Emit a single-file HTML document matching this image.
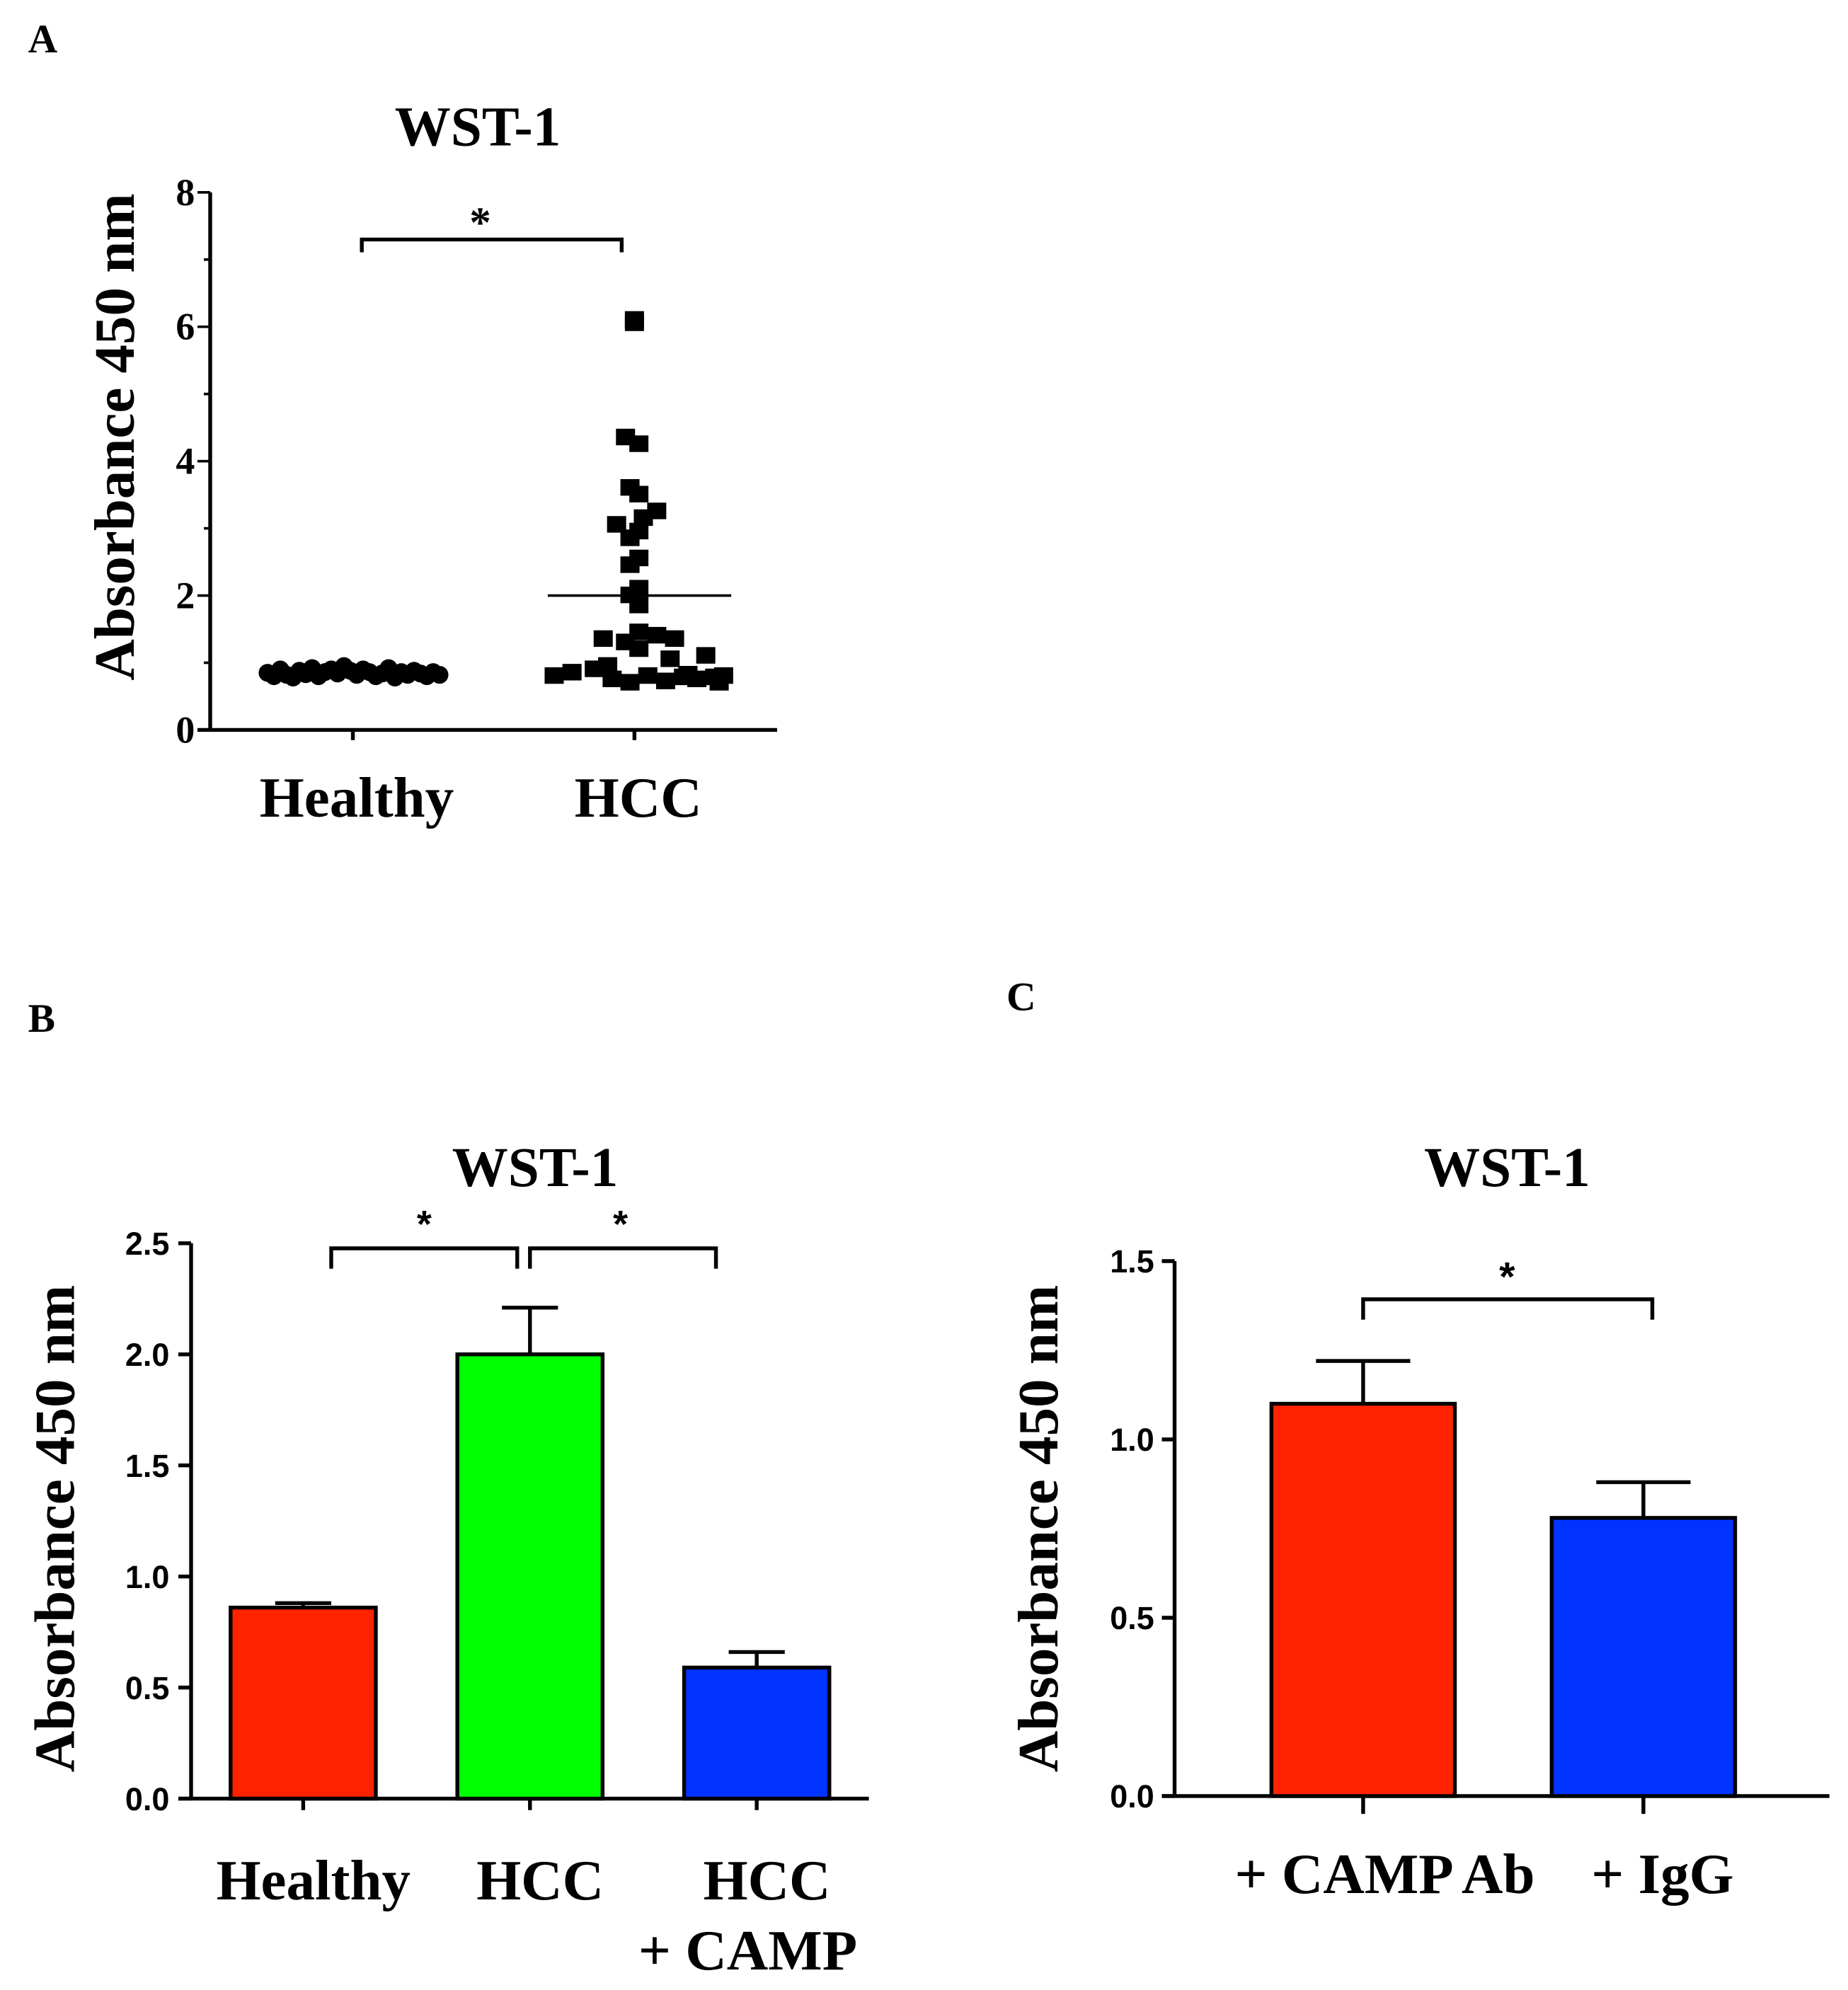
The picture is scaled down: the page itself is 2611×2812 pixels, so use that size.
<!DOCTYPE html>
<html><head><meta charset="utf-8"><style>html,body{margin:0;padding:0;background:#fff}svg{display:block}
.s{font-family:"Liberation Serif",serif;font-weight:bold}.a{font-family:"Liberation Sans",sans-serif;font-weight:bold}</style></head>
<body>
<svg id="fig" width="2611" height="2812" viewBox="0 0 1450.6 1562.2" xmlns="http://www.w3.org/2000/svg">
<rect width="1450.6" height="1562.2" fill="#fff"/>
<text class="s" x="22" y="41" font-size="32">A</text>
<text class="s" x="22" y="810" font-size="32">B</text>
<text class="s" x="790" y="793" font-size="32">C</text>
<g id="pa"></g>
<g id="pb"></g>
<g id="pc"></g>
</svg>
<script>
const NS="http://www.w3.org/2000/svg";
function mk(p,t,a,txt){const e=document.createElementNS(NS,t);for(const k in a)e.setAttribute(k,a[k]);if(txt!==undefined)e.textContent=txt;p.appendChild(e);return e;}

// Panel A data
const aCategories=["Healthy","HCC"];
const aTicks=[0,2,4,6,8];
const healthyVals=[0.85,0.8,0.9,0.82,0.78,0.88,0.83,0.92,0.8,0.86,0.9,0.84,0.95,0.88,0.82,0.9,0.86,0.8,0.84,0.92,0.78,0.86,0.82,0.88,0.84,0.8,0.86,0.82];
const hccVals=[6.1,6.05,4.35,4.25,3.6,3.5,3.25,3.15,3.05,2.95,2.85,2.55,2.45,2.1,2.0,1.85,1.45,1.35,1.3,1.35,1.2,1.4,1.1,1.05,0.95,0.8,0.9,0.85,0.75,0.7,0.8,0.72,0.78,0.75,0.7,0.82,0.78,0.8];
const hccJit=[0,0,-0.1,0.05,-0.05,0.05,0.25,0.1,-0.2,0.05,-0.05,0.05,-0.05,0.05,-0.05,0.05,0.05,-0.35,-0.1,0.45,0.05,0.25,0.8,0.4,-0.3,-0.9,-0.45,-0.7,-0.25,-0.05,0.15,0.35,0.55,0.7,0.95,0.6,0.9,1.0];
const aMean=[null,2.0];
const aSigStar="*";

{
const g=document.getElementById('pa');
const x0=165,y0=573,yTop=151,yMax=8;
const Y=v=>y0-(v/yMax)*(y0-yTop);
const cx=[277,498];
mk(g,'text',{class:'s',x:375,y:114,'font-size':44,'text-anchor':'middle',},'WST-1');
mk(g,'line',{x1:x0,y1:yTop,x2:x0,y2:y0+1,stroke:'#000','stroke-width':3,});
mk(g,'line',{x1:155,y1:y0,x2:610,y2:y0,stroke:'#000','stroke-width':3,});
for(let v=0;v<=yMax;v++){mk(g,'line',{x1:v%2?160:155,y1:Y(v),x2:x0,y2:Y(v),stroke:'#000','stroke-width':2});}
aTicks.forEach(v=>{const t=mk(g,'text',{class:'s',x:153,y:Y(v)+10,'font-size':30,'text-anchor':'end'},String(v));});
mk(g,'text',{class:'s','font-size':45,'text-anchor':'middle',transform:'translate(105,343) rotate(-90)',},'Absorbance 450 nm');
aCategories.forEach((c,i)=>{mk(g,'line',{x1:cx[i],y1:y0,x2:cx[i],y2:y0+8,stroke:'#000','stroke-width':3});const t=mk(g,'text',{class:'s',x:cx[i]+3,y:641,'font-size':45,'text-anchor':'middle'},c);});
const n=healthyVals.length;
healthyVals.forEach((v,i)=>{const c=mk(g,'circle',{cx:210+i*(135/(n-1)),cy:Y(v),r:7,fill:'#000'});});
hccVals.forEach((v,i)=>{const r=mk(g,'rect',{x:cx[1]-7.5+hccJit[i]*70,y:Y(v)-7,width:15,height:13,fill:'#000'});});
mk(g,'line',{x1:430,y1:Y(aMean[1]),x2:574,y2:Y(aMean[1]),stroke:'#000','stroke-width':2,});
mk(g,'path',{d:'M284,198 V188 H488 V198',fill:'none',stroke:'#000','stroke-width':3,});
mk(g,'text',{class:'s',x:377,y:186,'font-size':34,'text-anchor':'middle',},aSigStar);
}

// Panel B data
const bCategories=["Healthy","HCC","HCC"];
const bValues=[0.86,2.0,0.59];
const bErrors=[0.02,0.21,0.07];
const bTicks=["0.0","0.5","1.0","1.5","2.0","2.5"];
const bColors=["#ff2200","#00ff00","#0033ff"];

{
const g=document.getElementById('pb');
const x0=150,y0=1412,yTop=976,yMax=2.5;
const Y=v=>y0-(v/yMax)*(y0-yTop);
const cx=[238,416,594],bw=114;
mk(g,'text',{class:'s',x:420,y:931,'font-size':44,'text-anchor':'middle',},'WST-1');
mk(g,'line',{x1:x0,y1:yTop,x2:x0,y2:y0+1,stroke:'#000','stroke-width':3,});
mk(g,'line',{x1:140,y1:y0,x2:682,y2:y0,stroke:'#000','stroke-width':3,});
bTicks.forEach(s=>{const v=parseFloat(s);mk(g,'line',{x1:140,y1:Y(v),x2:x0,y2:Y(v),stroke:'#000','stroke-width':3});const t=mk(g,'text',{class:'a',x:133,y:Y(v)+9,'font-size':25,'text-anchor':'end'},s);});
mk(g,'text',{class:'s','font-size':45,'text-anchor':'middle',transform:'translate(58,1200) rotate(-90)',},'Absorbance 450 nm');
bValues.forEach((v,i)=>{
 const e=mk(g,'line',{x1:cx[i],y1:Y(v),x2:cx[i],y2:Y(v+bErrors[i]),stroke:'#000','stroke-width':3});
 mk(g,'line',{x1:cx[i]-22,y1:Y(v+bErrors[i]),x2:cx[i]+22,y2:Y(v+bErrors[i]),stroke:'#000','stroke-width':3});
 const r=mk(g,'rect',{x:cx[i]-bw/2,y:Y(v),width:bw,height:y0-Y(v),fill:bColors[i],stroke:'#000','stroke-width':3});
 mk(g,'line',{x1:cx[i],y1:y0,x2:cx[i],y2:y0+9,stroke:'#000','stroke-width':3});
 const t=mk(g,'text',{class:'s',x:cx[i]+8,y:1491,'font-size':45,'text-anchor':'middle'},bCategories[i]);
});
mk(g,'text',{class:'s',x:587,y:1546,'font-size':45,'text-anchor':'middle',},'+ CAMP');
mk(g,'path',{d:'M260,996 V980 H406 V996',fill:'none',stroke:'#000','stroke-width':3,});
mk(g,'path',{d:'M416,996 V980 H562 V996',fill:'none',stroke:'#000','stroke-width':3,});
mk(g,'text',{class:'a',x:333,y:971,'font-size':30,'text-anchor':'middle',},'*');
mk(g,'text',{class:'a',x:487,y:971,'font-size':30,'text-anchor':'middle',},'*');
}

// Panel C data
const cCategories=["+ CAMP Ab","+ IgG"];
const cValues=[1.1,0.78];
const cErrors=[0.12,0.1];
const cTicks=["0.0","0.5","1.0","1.5"];
const cColors=["#ff2200","#0033ff"];

{
const g=document.getElementById('pc');
const x0=922,y0=1410,yTop=990,yMax=1.5;
const Y=v=>y0-(v/yMax)*(y0-yTop);
const cx=[1070,1290],bw=144,lx=[1087,1305];
mk(g,'text',{class:'s',x:1183,y:931,'font-size':44,'text-anchor':'middle',},'WST-1');
mk(g,'line',{x1:x0,y1:yTop,x2:x0,y2:y0+1,stroke:'#000','stroke-width':3,});
mk(g,'line',{x1:912,y1:y0,x2:1436,y2:y0,stroke:'#000','stroke-width':3,});
cTicks.forEach(s=>{const v=parseFloat(s);mk(g,'line',{x1:912,y1:Y(v),x2:x0,y2:Y(v),stroke:'#000','stroke-width':3});const t=mk(g,'text',{class:'a',x:906,y:Y(v)+9,'font-size':25,'text-anchor':'end'},s);});
mk(g,'text',{class:'s','font-size':45,'text-anchor':'middle',transform:'translate(830,1200) rotate(-90)',},'Absorbance 450 nm');
cValues.forEach((v,i)=>{
 const e=mk(g,'line',{x1:cx[i],y1:Y(v),x2:cx[i],y2:Y(v+cErrors[i]),stroke:'#000','stroke-width':3});
 mk(g,'line',{x1:cx[i]-37,y1:Y(v+cErrors[i]),x2:cx[i]+37,y2:Y(v+cErrors[i]),stroke:'#000','stroke-width':3});
 const r=mk(g,'rect',{x:cx[i]-bw/2,y:Y(v),width:bw,height:y0-Y(v),fill:cColors[i],stroke:'#000','stroke-width':3});
 mk(g,'line',{x1:cx[i],y1:y0,x2:cx[i],y2:y0+14,stroke:'#000','stroke-width':3});
 const t=mk(g,'text',{class:'s',x:lx[i],y:1486,'font-size':45,'text-anchor':'middle'},cCategories[i]);
});
mk(g,'path',{d:'M1070,1036 V1020 H1297 V1036',fill:'none',stroke:'#000','stroke-width':3,});
mk(g,'text',{class:'a',x:1183,y:1013,'font-size':32,'text-anchor':'middle',},'*');
}
</script>
</body></html>
